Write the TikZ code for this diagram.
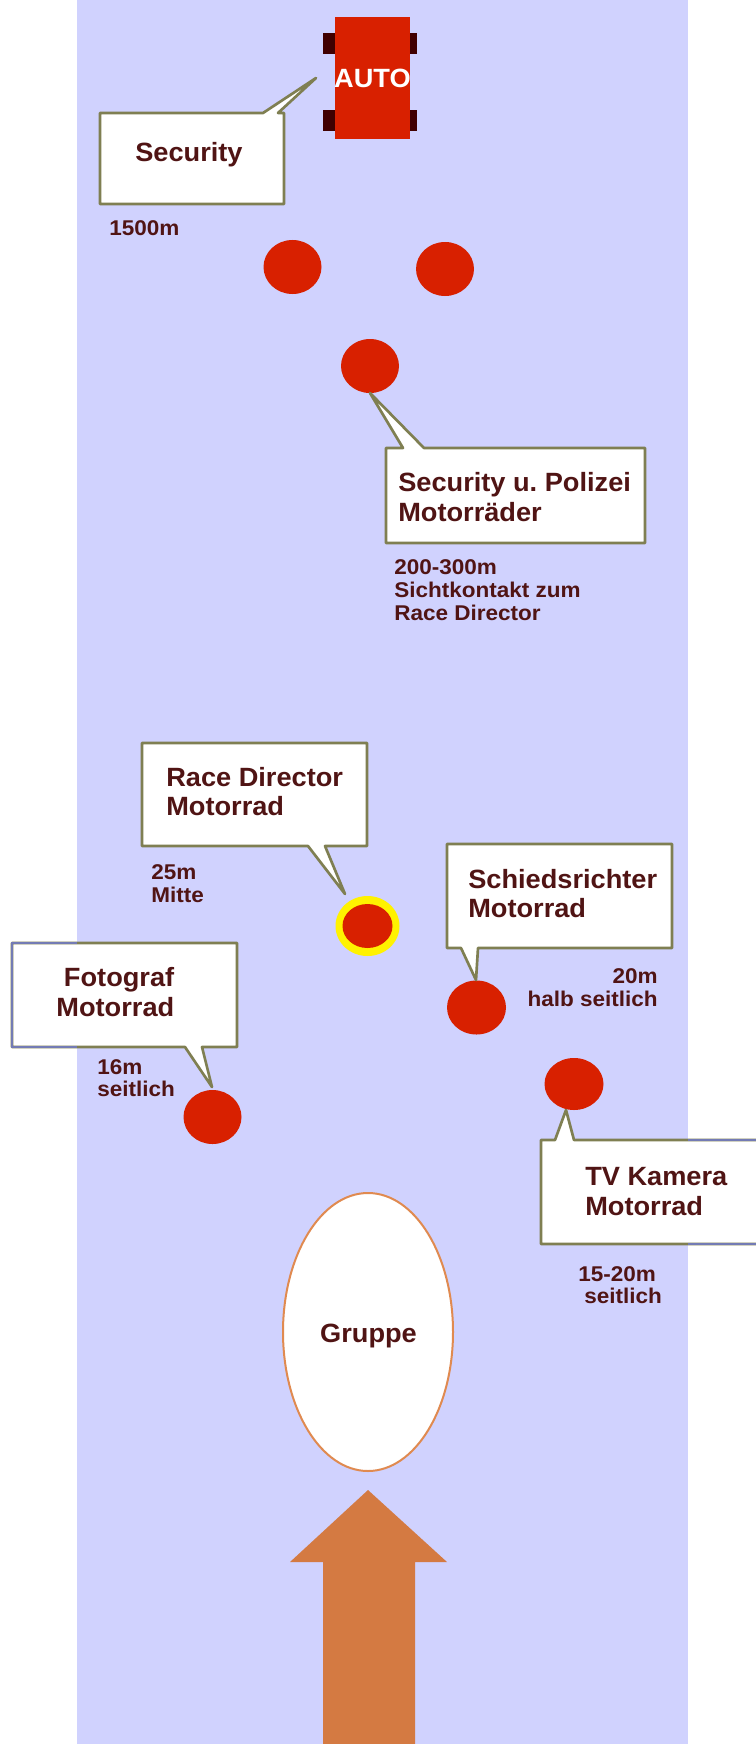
\documentclass[tikz,border=0pt]{standalone}
\usepackage{fontspec}
\setmainfont{Liberation Sans}
\newfontfamily\bigfam{Liberation Sans}[FakeStretch=1.03]
\newfontfamily\smallfam{Liberation Sans}[FakeStretch=1.055]
\definecolor{road}{HTML}{D0D2FE}
\definecolor{redc}{HTML}{D82000}
\definecolor{wheel}{HTML}{400000}
\definecolor{olive}{HTML}{7F7F52}
\definecolor{edgeblue}{HTML}{737BB4}
\definecolor{txt}{HTML}{501414}
\definecolor{arrowc}{HTML}{D47A42}
\definecolor{ellc}{HTML}{E08A50}
\tikzset{
  x=0.75pt,y=-0.75pt,
  callout/.style={draw=olive,fill=white,line width=2pt,line join=round},
  offroad/.style={draw=edgeblue,line width=1.5pt},
  big/.style={inner sep=0pt,anchor=west,align=left,text=txt,font=\bigfam\fontsize{19.8}{22}\selectfont\bfseries},
  small/.style={inner sep=0pt,align=left,text=txt,font=\smallfam\fontsize{16}{17}\selectfont\bfseries},
}
\begin{document}
\begin{tikzpicture}
\useasboundingbox (0,0) rectangle (756,1744);
\fill[white] (0,0) rectangle (756,1744);
\fill[road] (77,0) rectangle (688,1744);
% car
\fill[wheel] (323,33) rectangle (417,54);
\fill[wheel] (323,110) rectangle (417,131);
\fill[redc] (335,17) rectangle (410,139);
\node[inner sep=0pt,text=white,font=\bigfam\fontsize{19.8}{22}\selectfont\bfseries] (auto) at (372.5,78) {AUTO};
% motorbikes
\fill[redc] (292.5,267) ellipse [x radius=29,y radius=27];
\fill[redc] (445,269) ellipse [x radius=29,y radius=27];
\fill[redc] (370,366) ellipse [x radius=29,y radius=27];
\fill[yellow] (367.5,926) ellipse [x radius=32,y radius=30];
\fill[redc] (367.5,926) ellipse [x radius=25,y radius=22];
\fill[redc] (212.5,1117) ellipse [x radius=29,y radius=27];
\fill[redc] (476.5,1007.5) ellipse [x radius=29.5,y radius=27];
\fill[redc] (574,1084) ellipse [x radius=29.5,y radius=26];
% callouts
\draw[callout] (100,113) -- (263,113) -- (316,78) -- (278,113) -- (284,113) -- (284,204) -- (100,204) -- cycle;
\draw[callout] (386,448) -- (403,448) -- (370,393) -- (424,448) -- (645,448) -- (645,543) -- (386,543) -- cycle;
\draw[callout] (142,743) -- (367,743) -- (367,846) -- (325,846) -- (345,894) -- (308,846) -- (142,846) -- cycle;
\draw[callout] (12,943) -- (237,943) -- (237,1047) -- (202,1047) -- (212,1087) -- (185,1047) -- (12,1047) -- cycle;
\draw[callout] (447,844) -- (672,844) -- (672,948) -- (478,948) -- (476,980) -- (461,948) -- (447,948) -- cycle;
\draw[callout] (541,1140) -- (555,1140) -- (566,1110) -- (574,1140) -- (770,1140) -- (770,1244) -- (541,1244) -- cycle;
\draw[offroad] (77,943) -- (12,943) -- (12,1047) -- (77,1047);
\draw[offroad] (688,1140) -- (756,1140);
\draw[offroad] (688,1244) -- (756,1244);
% callout text
\node[big] (tsec) at (135,155) {Security};
\node[big] (tpol) at (398,497) {Security u.\ Polizei\\Motorräder};
\node[big] (trace) at (166,791.5) {Race Director\\Motorrad};
\node[big,align=right,anchor=east] (tfoto) at (174.5,992) {Fotograf\\Motorrad};
\node[big] (tschied) at (468,893.5) {Schiedsrichter\\Motorrad};
\node[big] (ttv) at (585,1191.5) {TV Kamera\\Motorrad};
% distances
\node[small,anchor=west] (d1) at (109,228) {1500m};
\node[small,anchor=west] (d2) at (394,590) {200-300m\\Sichtkontakt zum\\Race Director};
\node[small,anchor=west] (d3) at (151,883.5) {25m\\Mitte};
\node[small,anchor=west] (d4) at (97,1078) {16m\\seitlich};
\node[small,anchor=east,align=right] (d5) at (658,987.5) {20m\\halb seitlich};
\node[small,anchor=west] (d6) at (578,1285) {15-20m\\\hspace*{4.5pt}seitlich};
% group
\draw[ellc,fill=white,line width=1.5pt] (368,1332) ellipse [x radius=85,y radius=139];
\node[inner sep=0pt,text=txt,font=\bigfam\fontsize{19.8}{22}\selectfont\bfseries] (gruppe) at (368.5,1336) {Gruppe};
% arrow
\fill[arrowc] (368,1490) -- (447,1562) -- (415,1562) -- (415,1744) -- (323,1744) -- (323,1562) -- (290,1562) -- cycle;
\end{tikzpicture}
\end{document}
